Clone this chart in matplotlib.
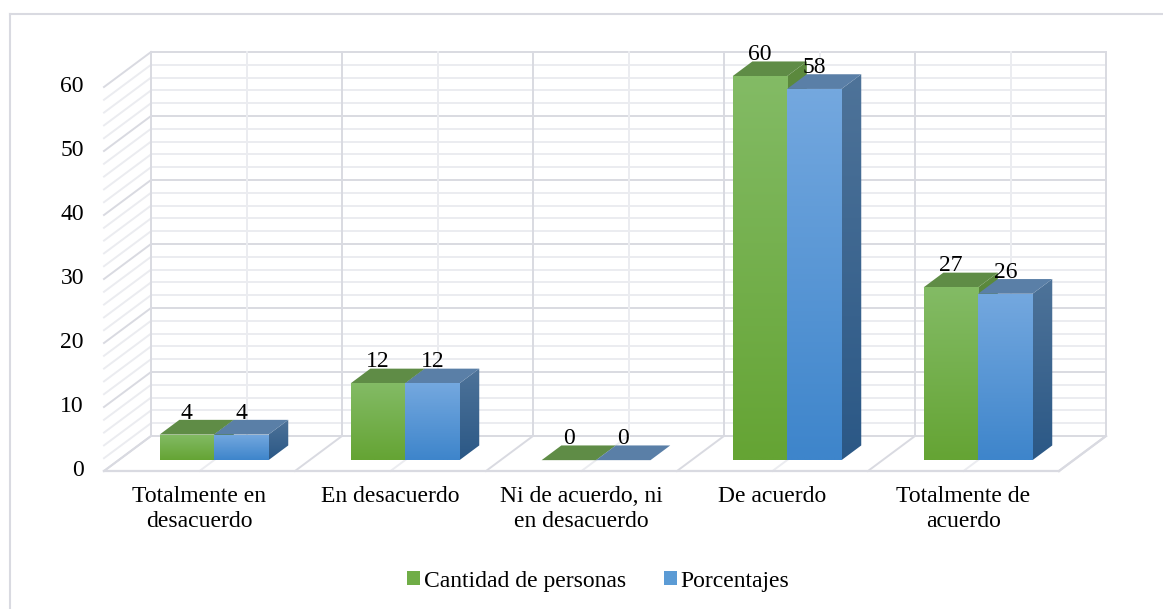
import numpy as np
import matplotlib.pyplot as plt
from matplotlib.patches import Polygon, Rectangle, Patch
from matplotlib.lines import Line2D

categorias = ['Totalmente en\ndesacuerdo', 'En desacuerdo', 'Ni de acuerdo, ni\nen desacuerdo',
              'De acuerdo', 'Totalmente de\nacuerdo']
cantidad = [4, 12, 0, 60, 27]
porcentajes = [4, 12, 0, 58, 26]
series = ['Cantidad de personas', 'Porcentajes']
yticks = [0, 10, 20, 30, 40, 50, 60]

plt.rcParams['font.family'] = ['Liberation Serif', 'DejaVu Serif']

# profondeur oblique (effet 3D façon Excel)
DX = 47 / 191
DY = 35 / 6.4
F0 = 0.31      # face avant des barres
FD = 0.42      # épaisseur des barres
W = 0.285      # largeur d'une barre
MARGE = 0.215
FS = 17

c_maj = '#d9dae1'
c_min = '#ebecf0'

fig = plt.figure(figsize=(11.63, 6.09), dpi=100)
ax = fig.add_axes([0, 0, 1, 1])
ax.set_axis_off()

n = len(categorias)
vmax = yticks[-1]

# mur du fond, mur gauche et sol
for v in range(0, vmax + 1, 2):
    c = c_maj if v % 10 == 0 else c_min
    ax.plot([DX, n + DX], [v + DY, v + DY], color=c, lw=1.4, zorder=1)
    ax.plot([0, DX], [v, v + DY], color=c, lw=1.4, zorder=1)
for k in range(0, 2 * n + 1):
    x = k / 2
    c = c_maj if k % 2 == 0 else c_min
    ax.plot([x + DX, x + DX], [DY, vmax + DY], color=c, lw=1.4, zorder=1)
    ax.plot([x, x + DX], [0, DY], color=c, lw=1.4, zorder=1)
ax.plot([0, n], [0, 0], color=c_maj, lw=1.6, zorder=1)
ax.plot([n, n + DX], [0, DY], color=c_maj, lw=1.6, zorder=1)

vert = ['#83bb65', '#65a434']
bleu = ['#74a8df', '#3e85cb']
cote = [['#5c8a3e', '#4a7a2b'], ['#4e7399', '#2b5886']]
dessus = ['#5f8c46', '#5a7fa7']


def gradient(x0, x1, y0, y1, ctop, cbot, clip):
    c1 = np.array(plt.matplotlib.colors.to_rgb(ctop))
    c2 = np.array(plt.matplotlib.colors.to_rgb(cbot))
    t = np.linspace(0, 1, 64)[:, None]
    img = (c1 * (1 - t) + c2 * t)[:, None, :]
    im = ax.imshow(img, extent=[x0, x1, y0, y1], aspect='auto', origin='upper',
                   zorder=3, interpolation='bilinear')
    im.set_clip_path(clip)


for i in range(n):
    for j, vals in enumerate([cantidad, porcentajes]):
        v = vals[i]
        x0 = i + MARGE + j * W + F0 * DX
        x1 = x0 + W
        yb = F0 * DY
        yt = v + F0 * DY
        bx, by = FD * DX, FD * DY
        # côté droit
        if v > 0:
            side = Polygon([[x1, yb], [x1 + bx, yb + by], [x1 + bx, yt + by], [x1, yt]],
                           closed=True, facecolor='none', edgecolor='none', zorder=3)
            ax.add_patch(side)
            gradient(x1, x1 + bx, yb, yt + by, cote[j][0], cote[j][1], side)
        # dessus
        ax.add_patch(Polygon([[x0, yt], [x1, yt], [x1 + bx, yt + by], [x0 + bx, yt + by]],
                             closed=True, facecolor=dessus[j], edgecolor='none', zorder=3))
        # face avant
        if v > 0:
            front = Rectangle((x0, yb), W, v, facecolor='none', edgecolor='none', zorder=3)
            ax.add_patch(front)
            cols = vert if j == 0 else bleu
            gradient(x0, x1, yb, yt, cols[0], cols[1], front)
        ax.text((x0 + x1) / 2, yt + by + 0.2, str(v), ha='center', va='baseline',
                fontsize=FS, color='black', zorder=5)

# graduations
for t in yticks:
    ax.text(-0.105, t, str(t), ha='right', va='center', fontsize=FS)

for i, cat in enumerate(categorias):
    ax.text(i + 0.5, -2.4, cat, ha='center', va='top', fontsize=FS, linespacing=1.2)

ax.set_xlim(-104 / 191, (1163 - 104) / 191)
ax.set_ylim(-138 / 6.4, (609 - 138) / 6.4)

# cadre du graphique
fig.add_artist(Line2D([10 / 1163, 10 / 1163], [0, 1 - 14 / 609], transform=fig.transFigure,
                      color='#d9dae1', lw=1.5))
fig.add_artist(Line2D([10 / 1163, 1], [1 - 14 / 609, 1 - 14 / 609], transform=fig.transFigure,
                      color='#d9dae1', lw=1.5))

handles = [Patch(facecolor='#70ad47', edgecolor='none'), Patch(facecolor='#5b9bd5', edgecolor='none')]
fig.legend(handles, series, loc='center', bbox_to_anchor=(598 / 1163, 1 - 581 / 609),
           ncol=2, frameon=False, fontsize=FS, handlelength=0.55, handleheight=0.55,
           handletextpad=0.15, columnspacing=1.6)

fig.savefig('out.png', dpi=100)
